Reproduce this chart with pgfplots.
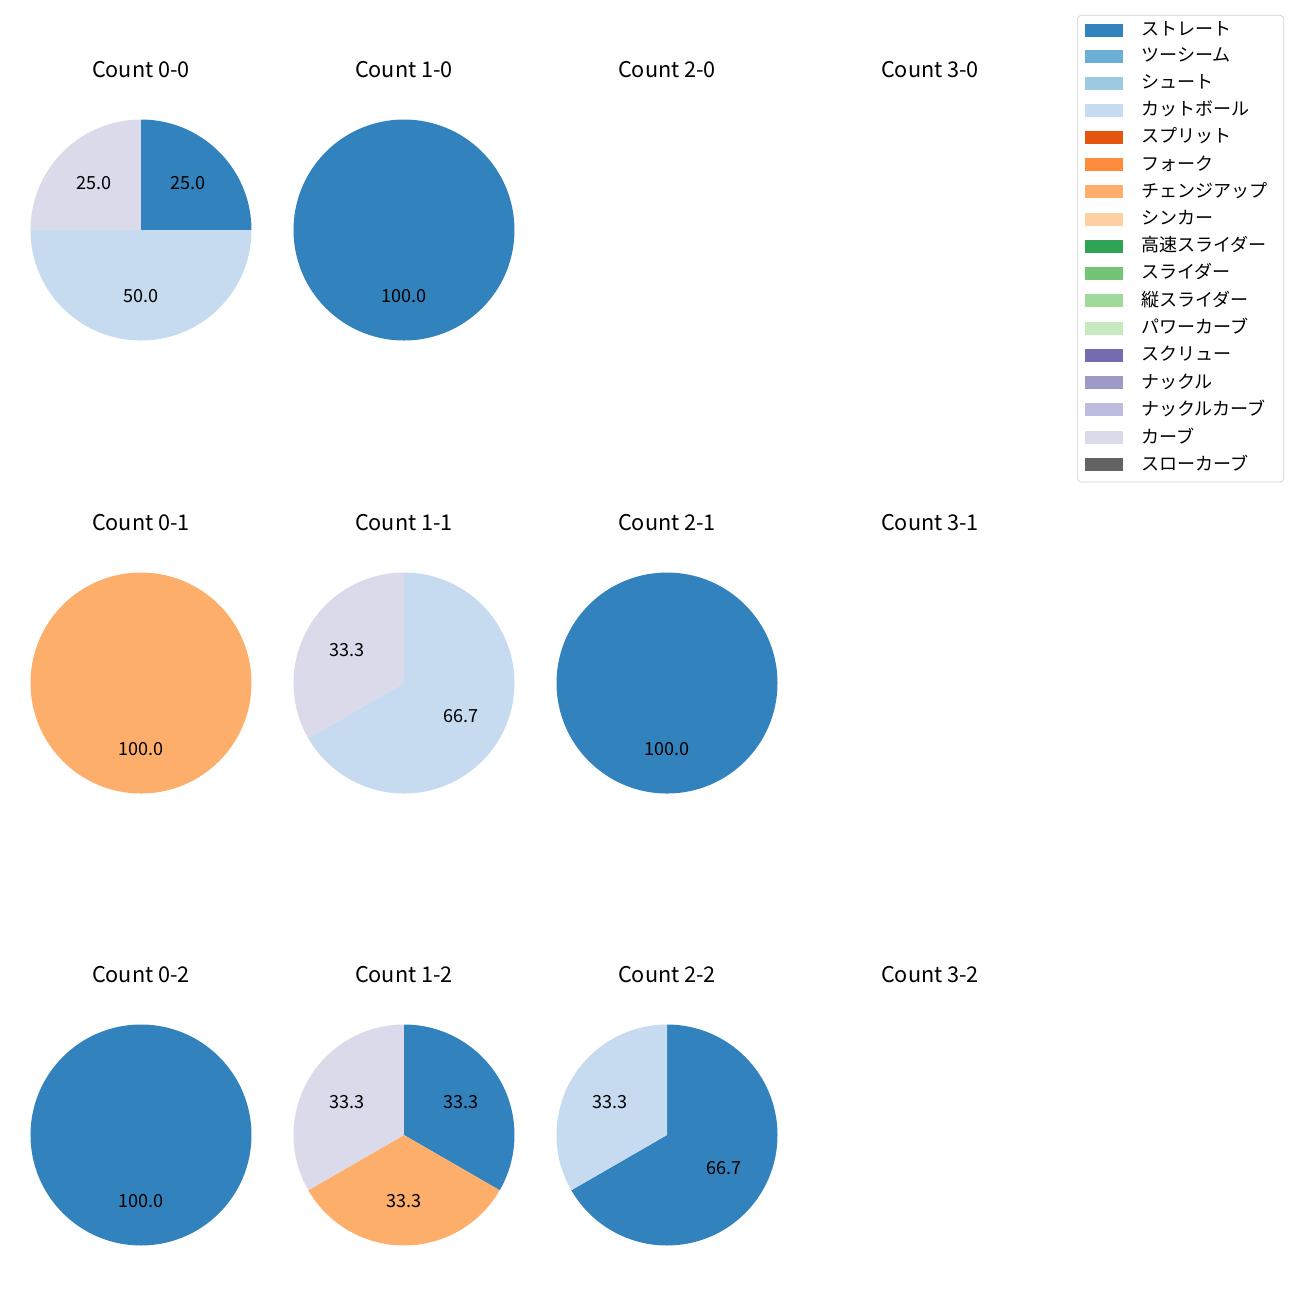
\documentclass[border=0pt]{standalone}
\usepackage{pgfplots}
\pgfplotsset{compat=1.18}
\usepackage{fontspec}
\setmainfont{Noto Sans CJK JP}
\definecolor{c1}{HTML}{3182BD}
\definecolor{c2}{HTML}{6BAED6}
\definecolor{c3}{HTML}{9ECAE1}
\definecolor{c4}{HTML}{C6DBEF}
\definecolor{c5}{HTML}{E6550D}
\definecolor{c6}{HTML}{FD8D3C}
\definecolor{c7}{HTML}{FDAE6B}
\definecolor{c8}{HTML}{FDD0A2}
\definecolor{c9}{HTML}{31A354}
\definecolor{c10}{HTML}{74C476}
\definecolor{c11}{HTML}{A1D99B}
\definecolor{c12}{HTML}{C7E9C0}
\definecolor{c13}{HTML}{756BB1}
\definecolor{c14}{HTML}{9E9AC8}
\definecolor{c15}{HTML}{BCBDDC}
\definecolor{c16}{HTML}{DADAEB}
\definecolor{c17}{HTML}{636363}
% pie: list of value/colour, clockwise from 90 degrees
\newcommand\pie[1]{%
  \gdef\curang{90}%
  \foreach \v/\col in {#1} {%
    \pgfmathsetmacro\endang{\curang-3.6*\v}%
    \pgfmathsetmacro\midang{(\curang+\endang)/2}%
    \edef\tmp{\noexpand\fill[\col] (axis cs:0,0) -- (axis cs:{cos(\curang)},{sin(\curang)}) arc[start angle=\curang, end angle=\endang, radius=61.2pt] -- cycle;
      \noexpand\node[font=\noexpand\fontsize{10}{12}\noexpand\selectfont, inner sep=0pt] at (axis cs:{0.6*cos(\midang)},{0.6*sin(\midang)}) {\noexpand\pgfmathprintnumber[fixed,fixed zerofill,precision=1,assume math mode=true]{\v}};}%
    \tmp
    \global\let\curang\endang
  }%
}
\pgfplotsset{pieax/.style={scale only axis, width=122.4pt, height=122.4pt,
  xmin=-1,xmax=1,ymin=-1,ymax=1, hide axis, anchor=center,
  title style={at={(0.5,1)},anchor=base,yshift=17.5pt,font=\fontsize{12}{14}\selectfont}}}
\begin{document}
\begin{tikzpicture}
\path (0pt,0pt) rectangle (720pt,720pt);
% row 0
\begin{axis}[pieax, at={(78.09pt,592.6pt)}, title={Count 0-0}]
\pie{25/c1,50/c4,25/c16}
\end{axis}
\begin{axis}[pieax, at={(223.75pt,592.6pt)}, title={Count 1-0}]
\pie{100/c1}
\end{axis}
\begin{axis}[pieax, at={(369.42pt,592.6pt)}, title={Count 2-0}]
\end{axis}
\begin{axis}[pieax, at={(515.08pt,592.6pt)}, title={Count 3-0}]
\end{axis}
% row 1
\begin{axis}[pieax, at={(78.09pt,341.7pt)}, title={Count 0-1}]
\pie{100/c7}
\end{axis}
\begin{axis}[pieax, at={(223.75pt,341.7pt)}, title={Count 1-1}]
\pie{66.667/c4,33.333/c16}
\end{axis}
\begin{axis}[pieax, at={(369.42pt,341.7pt)}, title={Count 2-1}]
\pie{100/c1}
\end{axis}
\begin{axis}[pieax, at={(515.08pt,341.7pt)}, title={Count 3-1}]
\end{axis}
% row 2
\begin{axis}[pieax, at={(78.09pt,91.38pt)}, title={Count 0-2}]
\pie{100/c1}
\end{axis}
\begin{axis}[pieax, at={(223.75pt,91.38pt)}, title={Count 1-2}]
\pie{33.333/c1,33.333/c7,33.334/c16}
\end{axis}
\begin{axis}[pieax, at={(369.42pt,91.38pt)}, title={Count 2-2}]
\pie{66.667/c1,33.333/c4}
\end{axis}
\begin{axis}[pieax, at={(515.08pt,91.38pt)}, title={Count 3-2}]
\end{axis}
% legend
\begin{axis}[at={(596.5pt,711.7pt)}, anchor=north west, scale only axis, width=1pt, height=1pt,
  hide axis, xmin=0,xmax=1,ymin=0,ymax=1,
  legend style={at={(0,1)}, anchor=north west, draw=black!18, rounded corners=2pt, fill=white,
    font=\fontsize{10}{12}\selectfont, inner xsep=4.4pt, inner ysep=1.2pt, row sep=0pt,
    column sep=10pt, nodes={inner sep=0pt, text depth=5.1pt}},
  legend cell align=left,
  legend image code/.code={\path[use as bounding box, draw=none, fill=none] (0pt,0pt) rectangle (21pt,8.4pt);
    \fill[#1, sharp corners, draw=none] (0pt,-2.2pt) rectangle (21pt,5.0pt);}]
\addlegendimage{c1}\addlegendentry{ストレート}
\addlegendimage{c2}\addlegendentry{ツーシーム}
\addlegendimage{c3}\addlegendentry{シュート}
\addlegendimage{c4}\addlegendentry{カットボール}
\addlegendimage{c5}\addlegendentry{スプリット}
\addlegendimage{c6}\addlegendentry{フォーク}
\addlegendimage{c7}\addlegendentry{チェンジアップ\hspace*{4.5pt}}
\addlegendimage{c8}\addlegendentry{シンカー}
\addlegendimage{c9}\addlegendentry{高速スライダー}
\addlegendimage{c10}\addlegendentry{スライダー}
\addlegendimage{c11}\addlegendentry{縦スライダー}
\addlegendimage{c12}\addlegendentry{パワーカーブ}
\addlegendimage{c13}\addlegendentry{スクリュー}
\addlegendimage{c14}\addlegendentry{ナックル}
\addlegendimage{c15}\addlegendentry{ナックルカーブ}
\addlegendimage{c16}\addlegendentry{カーブ}
\addlegendimage{c17}\addlegendentry{スローカーブ}
\end{axis}
\end{tikzpicture}
\end{document}
